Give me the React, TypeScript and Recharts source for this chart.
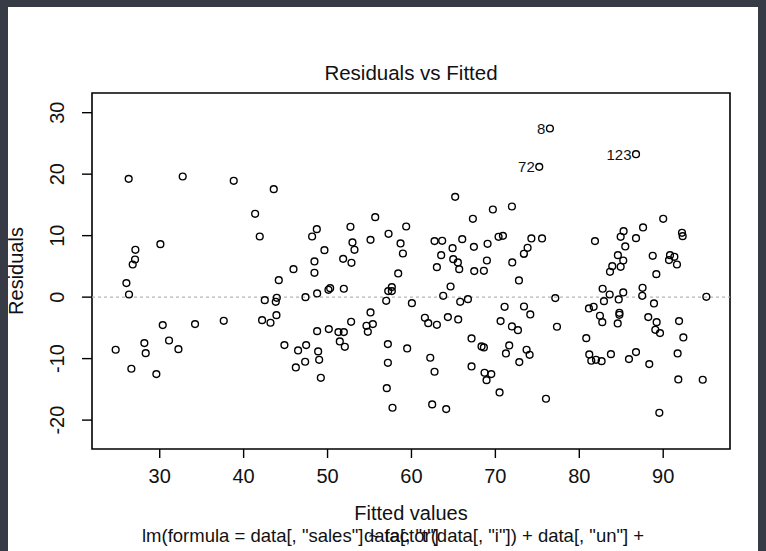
import React from 'react';
import { ScatterChart, Scatter, XAxis, YAxis, ReferenceLine, ReferenceArea } from 'recharts';

// fitted values and residuals (first three are the labelled outliers)
const fitted = [
  76.5, 75.23, 86.76,
  26.3, 32.74, 38.82, 43.59, 41.37, 41.92, 30.08, 27.1, 27.06, 26.78, 26.03, 26.34, 44.19, 45.94,
  48.72, 48.16, 49.63, 48.44, 48.44, 48.76, 50.11, 50.31, 51.94, 51.86, 52.85, 52.73, 52.97, 53.21,
  55.68, 55.12, 57.27, 57.23,
  65.21, 69.7, 71.97, 67.32, 90.0, 87.6, 85.28, 84.93, 86.76, 92.24, 92.32, 81.87, 85.48, 84.6,
  85.24, 83.93, 83.66, 84.93, 88.75, 89.18, 90.81, 90.69, 91.33, 91.64, 82.78, 83.62, 85.24, 87.54,
  87.5, 95.14,
  59.37, 58.7, 58.98, 58.42, 57.66, 57.66, 62.75, 63.66, 66.05, 64.9, 63.54, 64.98, 65.53, 63.03,
  65.69, 67.44, 69.07, 67.48, 68.63, 68.99, 70.38, 70.9, 74.29, 75.56, 73.84, 73.4, 72.01, 72.81,
  64.66, 63.78,
  77.14, 60.05, 65.81, 66.73, 71.1, 73.41, 74.16, 61.6, 62.0, 63.03, 64.34, 65.57, 70.62, 71.97,
  72.69, 77.34, 67.16, 68.35, 68.63, 71.65, 71.26, 73.72, 74.08, 72.85, 59.49, 62.24, 62.75, 67.16,
  68.71, 69.51, 68.95, 70.5, 57.06, 57.74, 62.47, 64.14, 76.03, 80.83, 81.15, 81.71, 82.46, 82.74,
  82.94, 84.7, 84.78, 84.78, 84.58, 81.19, 81.43, 81.99, 82.66, 83.77, 85.92, 86.76, 88.22, 88.9,
  89.22, 89.06, 89.62, 88.34, 91.89, 92.4, 91.72, 91.8, 94.71, 89.54,
  24.75, 26.62, 28.17, 28.33, 29.6, 30.36, 31.11, 32.23, 34.21, 37.63, 42.2, 43.2, 42.52, 43.95,
  43.83, 43.91, 47.37, 44.86, 46.49, 47.45, 46.22, 47.33, 48.88, 49.0, 49.2, 48.76, 50.15, 51.3,
  51.94, 51.46, 52.06, 52.81, 54.64, 55.12, 55.4, 54.8, 56.99, 57.19, 57.19,
];

const residuals = [
  27.43, 21.19, 23.25,
  19.24, 19.62, 18.92, 17.56, 13.55, 9.86, 8.62, 7.7, 6.12, 5.31, 2.28, 0.43, 2.76, 4.55,
  11.06, 9.86, 7.64, 5.8, 3.96, 0.6, 1.19, 1.46, 1.36, 6.23, 5.58, 11.44, 8.89, 7.7,
  13.01, 9.32, 10.3, 0.98,
  16.31, 14.25, 14.74, 12.74, 12.74, 11.33, 10.73, 9.81, 9.59, 10.46, 9.92, 9.11, 8.24, 6.83,
  5.96, 5.04, 4.12, 4.93, 6.72, 3.74, 6.83, 6.02, 6.56, 5.31, 1.36, 0.43, 0.76, 1.52,
  0.22, 0.05,
  11.49, 8.73, 7.1, 3.85, 1.63, 0.98, 9.11, 9.16, 9.43, 7.97, 6.83, 6.18, 5.64, 4.88,
  4.55, 8.18, 8.67, 4.23, 4.28, 5.96, 9.81, 9.97, 9.54, 9.54, 8.02, 7.05, 5.64, 2.71,
  1.73, 0.22,
  -0.16, -0.98, -0.76, -0.33, -1.57, -1.52, -2.82, -3.36, -4.23, -4.5, -3.25, -3.63, -3.9, -4.77,
  -5.37, -4.82, -6.72, -8.02, -8.18, -7.86, -9.16, -8.56, -9.38, -10.57, -8.35, -9.86, -12.14, -11.27,
  -12.3, -12.52, -13.5, -15.5, -14.8, -17.99, -17.45, -18.21, -16.53, -6.67, -1.84, -1.57, -3.04, -4.07,
  -0.65, -0.38, -2.55, -2.87, -4.28, -9.32, -10.35, -10.19, -10.41, -9.27, -10.08, -8.94, -3.25, -1.03,
  -4.07, -5.31, -5.85, -10.89, -3.9, -6.56, -9.16, -13.39, -13.44, -18.81,
  -8.56, -11.65, -7.48, -9.11, -12.52, -4.55, -7.05, -8.46, -4.39, -3.85, -3.74, -4.17, -0.49, -0.11,
  -0.76, -2.93, 0.0, -7.8, -8.67, -7.8, -11.44, -10.51, -8.83, -10.19, -13.12, -5.53, -5.2, -5.69,
  -5.69, -7.21, -8.08, -4.01, -4.66, -2.49, -4.39, -5.64, -0.6, -7.64, -10.68,
];

const outlierIds = ['8', '72', '123'];

const xTicks = [30, 40, 50, 60, 70, 80, 90];
const yTicks = [-20, -10, 0, 10, 20, 30];

const xDomain: [number, number] = [21.93, 97.96];
const yDomain: [number, number] = [-24.7, 33.2];

const FONT = '"Liberation Sans", Arial, Helvetica, sans-serif';

const points = fitted.map((f, i) => ({
  x: f,
  y: residuals[i],
  label: i < outlierIds.length ? outlierIds[i] : '',
}));

const Ring = (props: any) => {
  const { cx, cy, payload } = props;
  return (
    <g>
      <circle cx={cx} cy={cy} r={3.4} fill="none" stroke="#000" strokeWidth={1.4} />
      {payload.label ? (
        <text x={cx - 4.5} y={cy} textAnchor="end" dominantBaseline="central"
          fontSize={15} fontFamily={FONT} fill="#111">
          {payload.label}
        </text>
      ) : null}
    </g>
  );
};

const YTick = (props: any) => {
  const { x, y, payload } = props;
  return (
    <text x={x} y={y} transform={`rotate(-90 ${x} ${y})`} textAnchor="middle"
      dominantBaseline="central" fontSize={20} fontFamily={FONT} fill="#111">
      {payload.value}
    </text>
  );
};

export default function App() {
  return (
    <div style={{ position: 'relative', width: 766, height: 551, background: '#363b46', overflow: 'hidden' }}>
      <style>{`body{margin:0}`}</style>
      <div style={{ position: 'absolute', left: 8, top: 7, width: 750, height: 544, background: '#fff' }} />

      <div style={{ position: 'absolute', left: 0, top: 0 }}>
        <ScatterChart width={766} height={551} margin={{ top: 93, right: 36, bottom: 0, left: 0 }}>
          <XAxis type="number" dataKey="x" domain={xDomain} ticks={xTicks} allowDataOverflow
            axisLine={false} tickLine={{ stroke: '#000', strokeWidth: 1.4 }} tickSize={9} tickMargin={11}
            height={102} tick={{ fontSize: 20, fill: '#111', fontFamily: FONT }} />
          <YAxis type="number" dataKey="y" domain={yDomain} ticks={yTicks} allowDataOverflow
            axisLine={false} tickLine={{ stroke: '#000', strokeWidth: 1.4 }} tickSize={10} tickMargin={25}
            width={92} tick={<YTick />} />
          <ReferenceLine y={0} stroke="#b5b5b5" strokeDasharray="3 3" strokeWidth={1.3} />
          <ReferenceArea x1={xDomain[0]} x2={xDomain[1]} y1={yDomain[0]} y2={yDomain[1]}
            fill="none" stroke="#000" strokeWidth={1.6} fillOpacity={0} />
          <Scatter data={points} shape={<Ring />} isAnimationActive={false} />
        </ScatterChart>
      </div>

      <svg width={766} height={551} style={{ position: 'absolute', left: 0, top: 0, pointerEvents: 'none' }}
        fontFamily={FONT} fill="#111">
        <text x={411} y={80} textAnchor="middle" fontSize={20.5}>Residuals vs Fitted</text>
        <text x={16} y={271} transform="rotate(-90 16 271)" textAnchor="middle" dominantBaseline="central"
          fontSize={20}>Residuals</text>
        <text x={411} y={520} textAnchor="middle" fontSize={20}>Fitted values</text>
        <text x={142} y={542} fontSize={18.5}>
          lm(formula = data[, "sales"] ~ factor(data[, "i"]) + data[, "un"] +
        </text>
        <text x={364} y={542} fontSize={18.5}>data[, "t"]</text>
      </svg>
    </div>
  );
}
